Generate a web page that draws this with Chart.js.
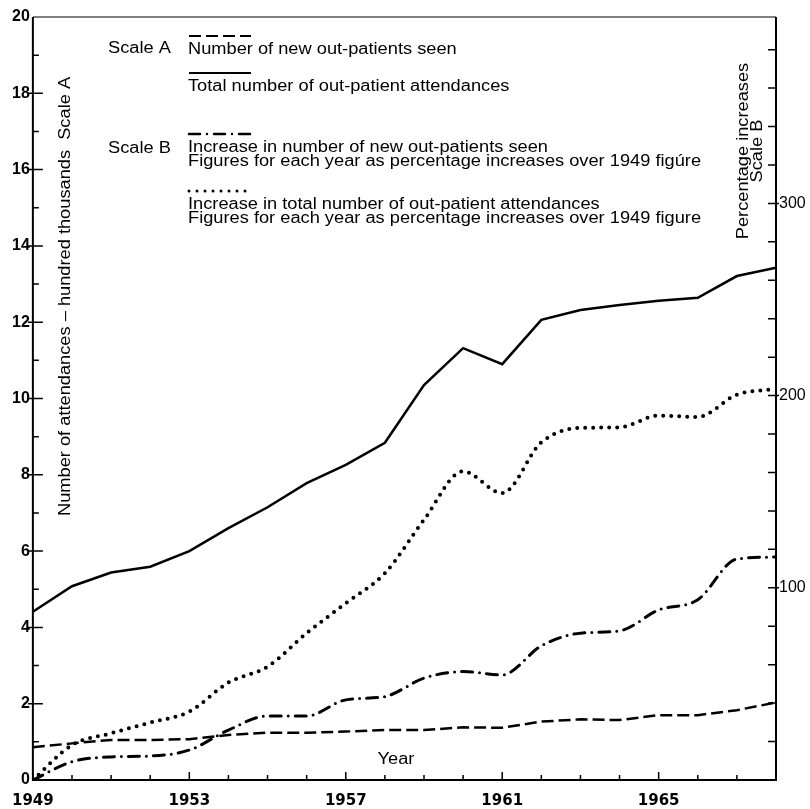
<!DOCTYPE html>
<html>
<head>
<meta charset="utf-8">
<script src="https://cdn.jsdelivr.net/npm/chart.js@4"></script>
<style>
  body { margin: 0; background: #fff; }
  #wrap { width: 810px; height: 809px; }
</style>
</head>
<body>
<div id="wrap"><canvas id="grafico"></canvas></div>
<script>
// data
const years = [1949,1950,1951,1952,1953,1954,1955,1956,1957,1958,1959,1960,1961,1962,1963,1964,1965,1966,1967,1968]

// scale A, hundred thousands
const newPatients = [0.86,0.96,1.05,1.05,1.07,1.18,1.24,1.24,1.27,1.31,1.31,1.38,1.37,1.53,1.59,1.57,1.70,1.70,1.83,2.03]
const totalAttendances = [4.41,5.08,5.44,5.59,6.0,6.6,7.15,7.78,8.26,8.84,10.35,11.32,10.9,12.06,12.32,12.45,12.56,12.64,13.21,13.43]

// scale B, % increase over 1949
const newPctIncrease = [0,9.5,12,12.5,15.6,26,33.3,33.3,41.7,43.4,53,56.4,54.7,69.8,76.4,77.6,88.5,93.8,115,116]
const totalPctIncrease = [0,18.2,24.3,29.9,35.6,50.7,59,76.4,92,107.6,135.4,160.6,149.3,175.7,183.2,183.5,189.6,188.9,200.5,203.5]

const labelYears = [1949,1953,1957,1961,1965]
const rightLabels = [100,200,300]

// line styles
const DASHED = [12, 5]
const DASHDOT = [11, 7, 0, 7]
const DOTTED = [0, 8]

const FONT = "'Liberation Sans', Arial, sans-serif"
const SX = 1.14 // the original lettering is a wide face
Chart.defaults.font.family = FONT
Chart.defaults.color = '#000'

const pts = arr => arr.map((v, i) => ({ x: years[i], y: v }))

function wideText(ctx, str, x, y, align, rot) {
  ctx.save()
  ctx.translate(x, y)
  if (rot) ctx.rotate(rot)
  ctx.scale(SX, 1)
  ctx.textAlign = align
  ctx.fillText(str, 0, 0)
  ctx.restore()
}

const overlay = {
  id: 'overlay',
  afterDraw(chart) {
    const { ctx, chartArea: a, scales: { x, y, y1 } } = chart
    ctx.save()
    ctx.strokeStyle = '#000'
    ctx.fillStyle = '#000'

    // frame
    ctx.lineWidth = 2
    ctx.beginPath()
    ctx.moveTo(a.left, a.top)
    ctx.lineTo(a.left, a.bottom)
    ctx.lineTo(a.right, a.bottom)
    ctx.lineTo(a.right, a.top)
    ctx.stroke()
    ctx.lineWidth = 1.2
    ctx.beginPath()
    ctx.moveTo(a.left, a.top)
    ctx.lineTo(a.right, a.top)
    ctx.stroke()

    // tick marks (inward)
    ctx.lineWidth = 1.5
    ctx.beginPath()
    for (let v = 1; v <= 19; v++) {
      const py = y.getPixelForValue(v)
      const major = v % 2 === 0
      ctx.moveTo(major ? a.left - 5 : a.left, py)
      ctx.lineTo(a.left + (major ? 10 : 6), py)
    }
    for (let v = 20; v <= 380; v += 20) {
      const py = y1.getPixelForValue(v)
      ctx.moveTo(a.right - 8, py)
      ctx.lineTo(rightLabels.includes(v) ? a.right + 3 : a.right, py)
    }
    years.forEach(yr => {
      const px = x.getPixelForValue(yr)
      ctx.moveTo(px, a.bottom)
      ctx.lineTo(px, a.bottom - (labelYears.includes(yr) ? 8 : 5))
    })
    ctx.stroke()

    // right axis numbers
    ctx.font = '16px ' + FONT
    ctx.textBaseline = 'middle'
    ctx.textAlign = 'left'
    rightLabels.forEach(v => ctx.fillText(String(v), a.right + 3, y1.getPixelForValue(v)))

    // axis titles inside the frame
    ctx.font = '16px ' + FONT
    wideText(ctx, 'Number of attendances \u2013 hundred thousands  Scale A', 66, 516, 'left', -Math.PI / 2)
    wideText(ctx, 'Percentage increases', 744, 151, 'center', -Math.PI / 2)
    wideText(ctx, 'Scale B', 758, 151, 'center', -Math.PI / 2)
    wideText(ctx, 'Year', 396, 760, 'center')

    // key
    wideText(ctx, 'Scale A', 108, 49, 'left')
    wideText(ctx, 'Scale B', 108, 149, 'left')
    const rows = [
      [36, DASHED, 'butt', 2, ['Number of new out-patients seen']],
      [73, [], 'butt', 2, ['Total number of out-patient attendances']],
      [134, DASHDOT, 'round', 2.5, ['Increase in number of new out-patients seen',
        'Figures for each year as percentage increases over 1949 fig\u00fare']],
      [191, DOTTED, 'round', 3, ['Increase in total number of out-patient attendances',
        'Figures for each year as percentage increases over 1949 figure']]
    ]
    rows.forEach(([ly, dash, cap, w, lines]) => {
      ctx.save()
      ctx.lineWidth = w
      ctx.lineCap = cap
      ctx.setLineDash(dash)
      ctx.beginPath()
      ctx.moveTo(189, ly)
      ctx.lineTo(251, ly)
      ctx.stroke()
      ctx.restore()
      lines.forEach((t, i) => wideText(ctx, t, 188, ly + 14 + i * 14, 'left'))
    })
    ctx.restore()
  }
}

const data = {
  datasets: [
    {
      data: pts(totalAttendances), yAxisID: 'y',
      borderColor: '#000', borderWidth: 2.5
    },
    {
      data: pts(newPatients), yAxisID: 'y',
      borderColor: '#000', borderWidth: 2.5, borderDash: DASHED
    },
    {
      data: pts(newPctIncrease), yAxisID: 'y1',
      borderColor: '#000', borderWidth: 3, borderDash: DASHDOT,
      borderCapStyle: 'round', cubicInterpolationMode: 'monotone'
    },
    {
      data: pts(totalPctIncrease), yAxisID: 'y1',
      borderColor: '#000', borderWidth: 4, borderDash: DOTTED,
      borderCapStyle: 'round', cubicInterpolationMode: 'monotone'
    }
  ]
}

const config = {
  type: 'line',
  data,
  options: {
    responsive: true,
    maintainAspectRatio: false,
    animation: false,
    pointRadius: 0,
    layout: { padding: { top: 17, left: 0, right: 0, bottom: 0 } },
    plugins: { legend: { display: false }, tooltip: { enabled: false } },
    scales: {
      x: {
        type: 'linear', min: 1949, max: 1968,
        grid: { display: false, drawTicks: false },
        border: { display: false },
        ticks: {
          stepSize: 1, autoSkip: false, maxRotation: 0, padding: 12,
          font: { family: "'DejaVu Sans', sans-serif", size: 15, weight: 'bold' },
          callback: v => labelYears.includes(v) ? String(v) : ''
        },
        afterFit: s => { s.height = 29 }
      },
      y: {
        position: 'left', min: 0, max: 20,
        grid: { display: false, drawTicks: false },
        border: { display: false },
        ticks: { stepSize: 2, padding: 3, font: { size: 16, weight: 'bold' } },
        afterFit: s => { s.width = 30 }
      },
      y1: {
        position: 'right', min: 0, max: 397,
        grid: { display: false, drawTicks: false },
        border: { display: false },
        ticks: { display: false },
        afterFit: s => { s.width = 34 }
      }
    }
  },
  plugins: [overlay]
}

const meuGrafico = new Chart(document.getElementById('grafico'), config)
</script>
</body>
</html>
